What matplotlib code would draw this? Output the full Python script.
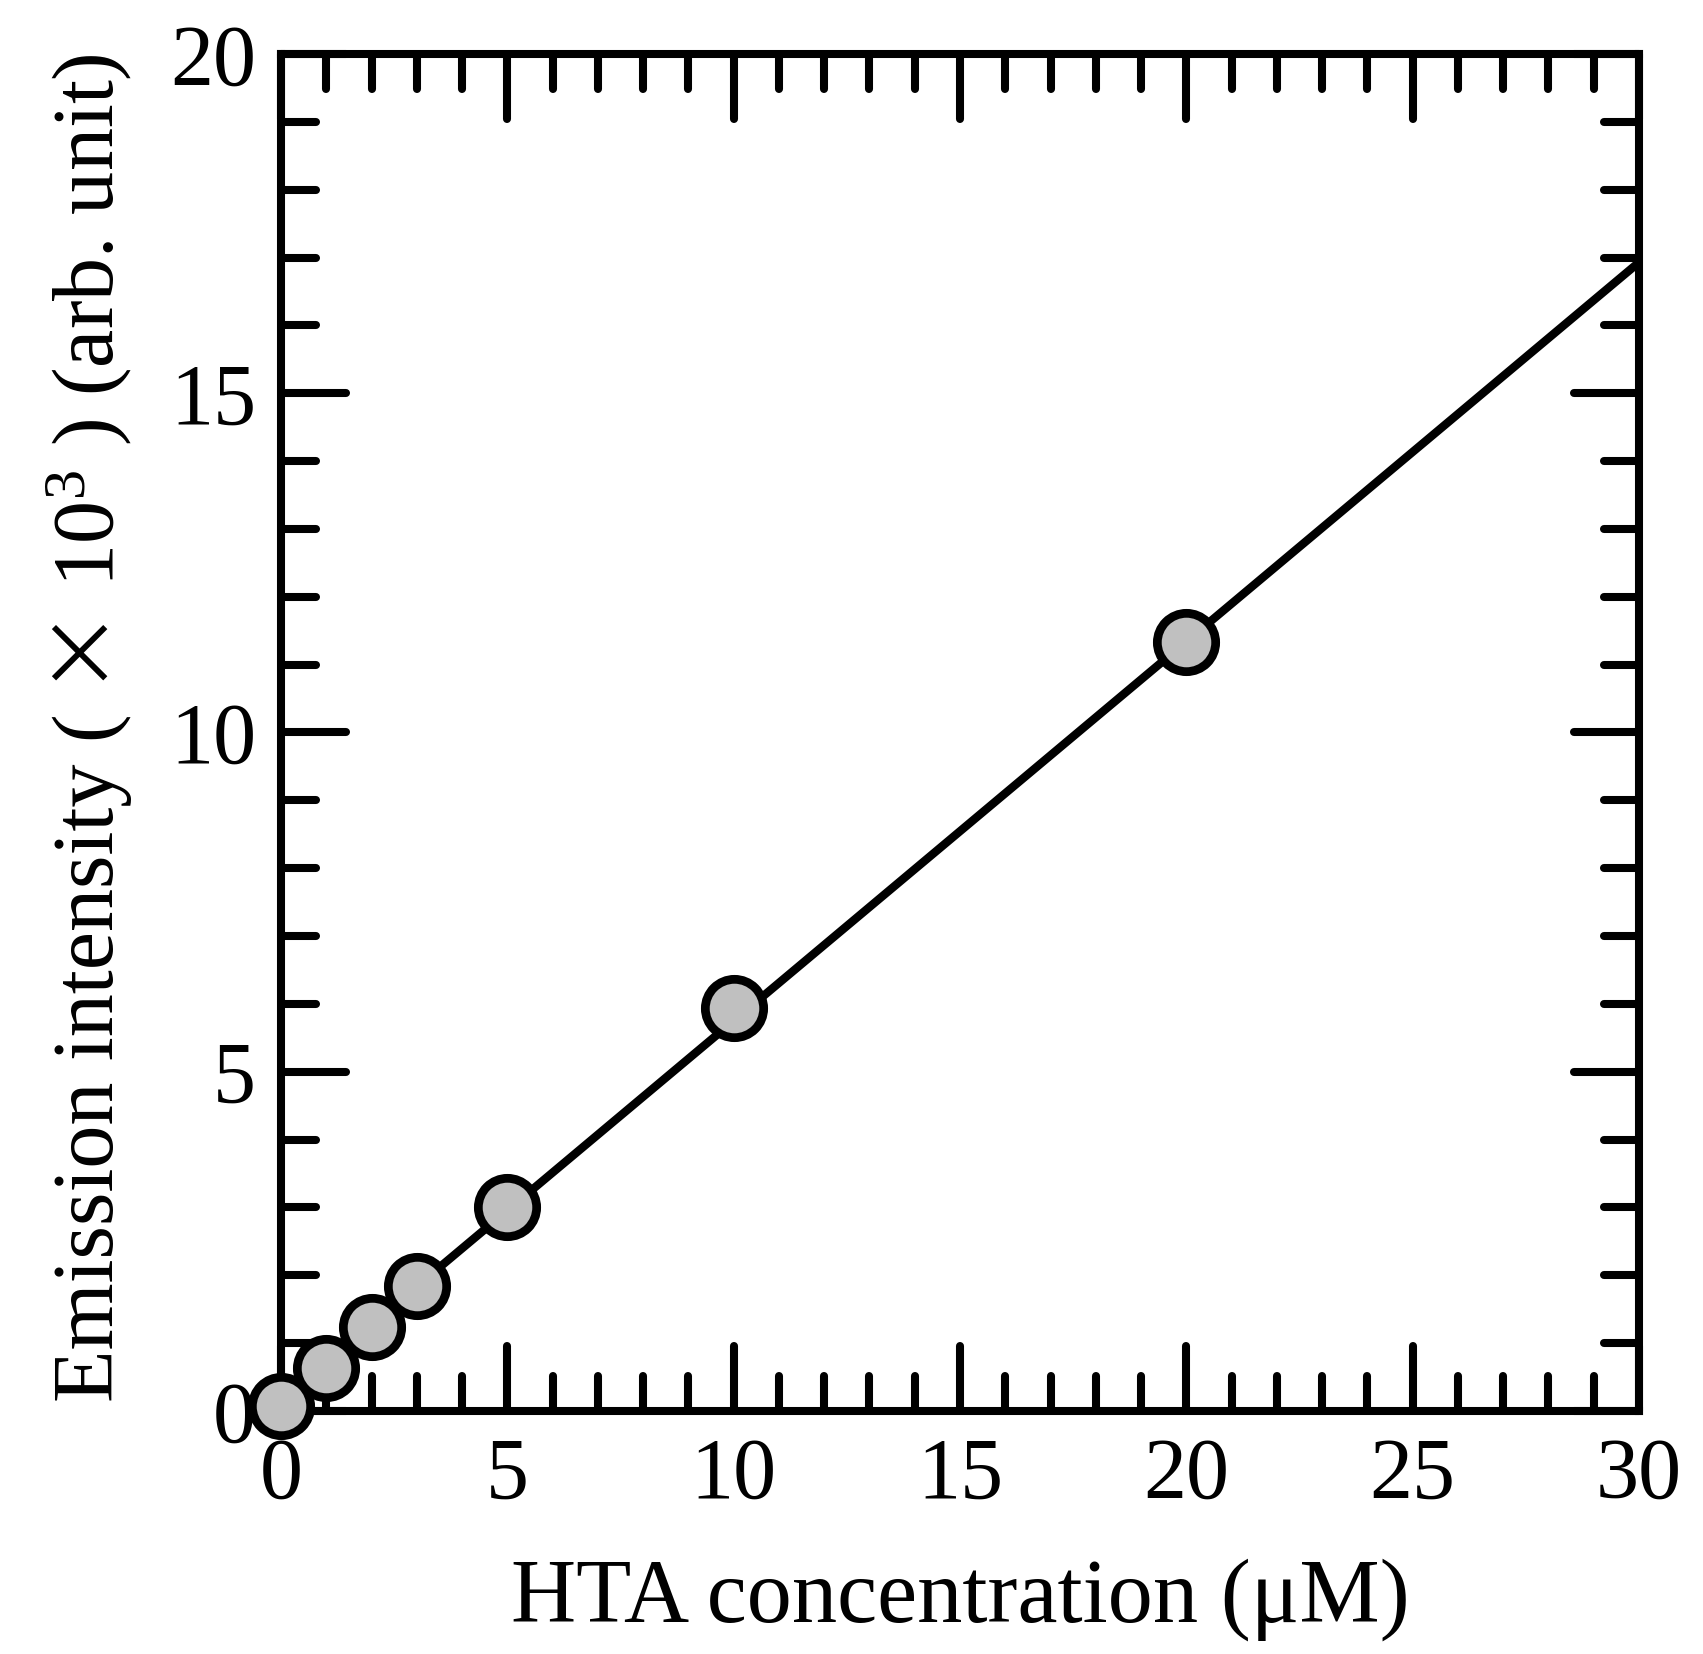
import matplotlib
matplotlib.use("Agg")
import matplotlib.pyplot as plt
from matplotlib.ticker import MultipleLocator
from matplotlib.markers import MarkerStyle

# Data
hta_conc = [0, 1, 2, 3, 5, 10, 20]
emission = [0.07, 0.64, 1.24, 1.84, 3.00, 5.94, 11.34]
fit_x = [0, 30]
fit_y = [0.16, 16.93]
x_ticks = [0, 5, 10, 15, 20, 25, 30]
y_ticks = [0, 5, 10, 15, 20]
xlabel = 'HTA concentration (μM)'
ylabel_parts = ['Emission intensity (', ' ×', ' 10$^{3}$ ) (arb. unit)']

plt.rcParams['font.family'] = ['Liberation Serif', 'DejaVu Serif']
plt.rcParams['mathtext.fontset'] = 'custom'
plt.rcParams['mathtext.rm'] = 'Liberation Serif'
plt.rcParams['mathtext.it'] = 'Liberation Serif'

W, H = 1703, 1654
fig = plt.figure(figsize=(W / 100, H / 100), dpi=100)
L, R, T, B = 281, 1639, 54, 1411
ax = fig.add_axes([L / W, 1 - B / H, (R - L) / W, (B - T) / H])

ax.plot(fit_x, fit_y, color='black', lw=6.0, solid_capstyle='butt', zorder=2)
ax.plot(hta_conc, emission, linestyle='none', marker='o', ms=42,
        mfc='#c0c0c0', mec='black', mew=6.3, clip_on=False, zorder=5)

ax.set_xlim(0, 30)
ax.set_ylim(0, 20)
ax.set_xticks(x_ticks)
ax.set_yticks(y_ticks)
ax.xaxis.set_minor_locator(MultipleLocator(1))
ax.yaxis.set_minor_locator(MultipleLocator(1))

for s in ax.spines.values():
    s.set_linewidth(5.8)

ax.tick_params(which='both', direction='in', top=True, right=True, width=5.8,
               labelsize=62)
ax.tick_params(which='major', length=47)
ax.tick_params(which='minor', length=25)
ax.tick_params(axis='x', which='major', pad=19)
ax.tick_params(axis='y', which='major', pad=18)

# round caps on tick marks
for axis in (ax.xaxis, ax.yaxis):
    for minor in (False, True):
        for tl in axis.get_ticklines(minor=minor):
            try:
                tl.set_marker(MarkerStyle(tl.get_marker(), capstyle='round'))
            except Exception:
                pass

# x label (baseline placed directly)
fig.text(960 / W, 32 / H, xlabel, fontsize=65, ha='center', va='baseline')

# y label built from pieces so the × can use a wider glyph
yfs = 62
fams = [['Liberation Serif'], ['Noto Sans CJK JP'], ['Liberation Serif']]
fig.canvas.draw()
renderer = fig.canvas.get_renderer()
widths = []
for part, fam in zip(ylabel_parts, fams):
    t = fig.text(0, 0, part, fontsize=yfs, family=fam)
    bb = t.get_window_extent(renderer)
    widths.append(bb.width)
    t.remove()
total = sum(widths)
center_y = H - 728
start = center_y - total / 2
base_x = 113
pos = start
for part, fam, w in zip(ylabel_parts, fams, widths):
    fig.text(base_x / W, pos / H, part, fontsize=yfs, family=fam,
             rotation=90, rotation_mode='anchor', ha='left', va='baseline')
    pos += w

fig.savefig('out.png', dpi=100, facecolor='white')
